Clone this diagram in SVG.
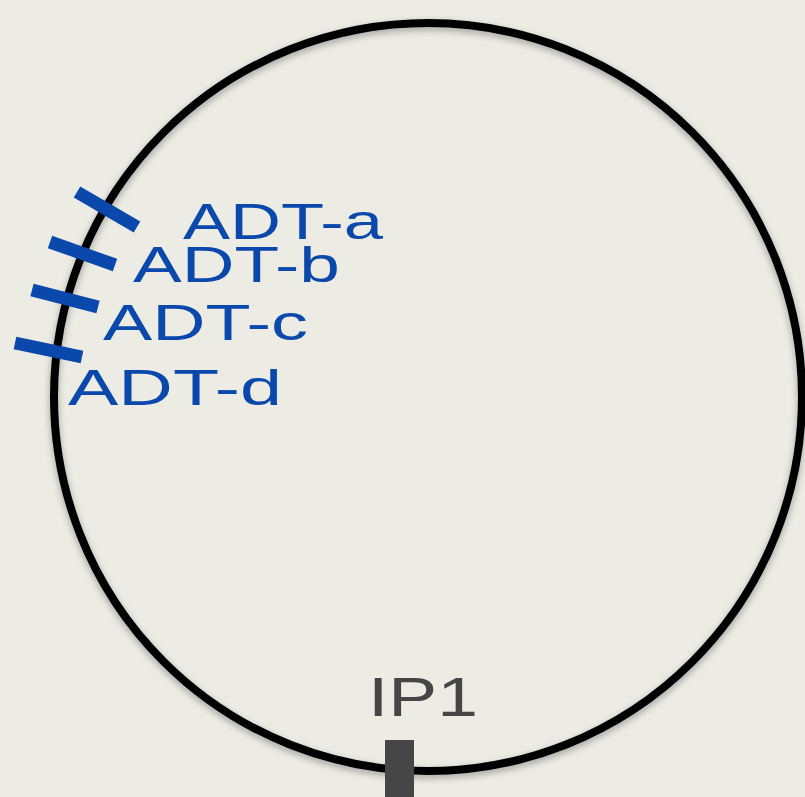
<svg xmlns="http://www.w3.org/2000/svg" width="805" height="797" viewBox="0 0 805 797">
<defs>
<style>
.ring{fill:none;stroke:#000;stroke-width:8}
.tick{stroke:#0b48ab;stroke-width:13;stroke-linecap:butt}
.lbl{font-family:"Liberation Sans","DejaVu Sans",sans-serif;fill:#0b48ab;font-size:50px}
.ip{font-family:"Liberation Sans","DejaVu Sans",sans-serif;fill:#464646;font-size:56px}
</style>
<filter id="sh" x="-10%" y="-10%" width="120%" height="120%">
<feGaussianBlur stdDeviation="3"/>
</filter>
</defs>
<rect width="805" height="797" fill="#ecebe4"/>
<g id="ring">
<circle cx="428" cy="397" r="374" fill="none" stroke="#000" stroke-opacity="0.25" stroke-width="10" filter="url(#sh)" transform="translate(0,3)"/>
<circle class="ring" cx="428" cy="397" r="374"/>
</g>
<g id="connectors">
<line class="tick" x1="77" y1="192" x2="137" y2="227"/>
<line class="tick" x1="50" y1="242" x2="115" y2="265"/>
<line class="tick" x1="32" y1="290" x2="98" y2="307"/>
<line class="tick" x1="15" y1="343" x2="82" y2="357"/>
</g>
<g id="adt-a"><text class="lbl" x="183" y="239" textLength="200" lengthAdjust="spacingAndGlyphs">ADT-a</text></g>
<g id="adt-b"><text class="lbl" x="133" y="282" textLength="207" lengthAdjust="spacingAndGlyphs">ADT-b</text></g>
<g id="adt-c"><text class="lbl" x="103" y="340" textLength="205" lengthAdjust="spacingAndGlyphs">ADT-c</text></g>
<g id="adt-d"><text class="lbl" x="68" y="405" textLength="214" lengthAdjust="spacingAndGlyphs">ADT-d</text></g>
<g id="ip1">
<text class="ip" x="368" y="716" textLength="110" lengthAdjust="spacingAndGlyphs">IP1</text>
<rect x="385" y="740" width="29" height="57" fill="#464646"/>
</g>
</svg>
